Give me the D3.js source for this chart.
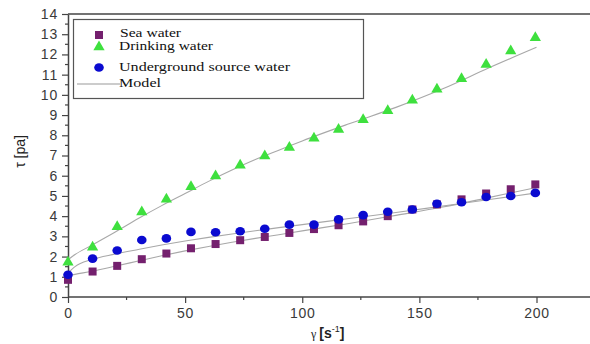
<!DOCTYPE html>
<html>
<head>
<meta charset="utf-8">
<script src="https://cdn.jsdelivr.net/npm/d3@7"></script>
<style>
  body { margin: 0; background: #fff; }
  svg { display: block; }
</style>
</head>
<body>
<div id="chart"></div>
<script>
// shear rate (s^-1) where points were measured
const shearRate = [0, 10.5, 21, 31.5, 42, 52.5, 63, 73.5, 84, 94.5, 105, 115.5, 126, 136.5, 147, 157.5, 168, 178.5, 189, 199.5];
const seaWater = [0.85, 1.26, 1.54, 1.87, 2.15, 2.41, 2.62, 2.81, 2.97, 3.17, 3.36, 3.55, 3.74, 4.0, 4.33, 4.58, 4.83, 5.12, 5.33, 5.57];
const drinkingWater = [1.72, 2.46, 3.48, 4.2, 4.83, 5.45, 5.98, 6.52, 6.98, 7.39, 7.85, 8.29, 8.77, 9.21, 9.73, 10.28, 10.8, 11.5, 12.17, 12.82];
const undergroundWater = [1.1, 1.9, 2.3, 2.82, 2.9, 3.22, 3.2, 3.25, 3.38, 3.58, 3.58, 3.84, 4.05, 4.22, 4.33, 4.61, 4.69, 4.95, 5.0, 5.15];

// model curves
const modelX = [0, 3, 10, 20, 30, 40, 50, 60, 70, 80, 90, 100, 120, 140, 160, 180, 200];
const modelSea = [1.05, 1.12, 1.27, 1.52, 1.78, 2.04, 2.28, 2.5, 2.71, 2.9, 3.08, 3.27, 3.64, 4.04, 4.45, 4.93, 5.42];
const modelDrinking = [1.84, 2.1, 2.55, 3.2, 3.88, 4.52, 5.12, 5.72, 6.28, 6.8, 7.26, 7.72, 8.57, 9.38, 10.3, 11.35, 12.35];
const modelUnderground = [1.18, 1.5, 1.85, 2.12, 2.35, 2.57, 2.77, 2.95, 3.12, 3.28, 3.43, 3.58, 3.88, 4.18, 4.5, 4.82, 5.15];

const xTicks = [0, 50, 100, 150, 200];
const yTicks = d3.range(0, 15, 1);
const legendLabels = ['Sea water', 'Drinking water', 'Underground source water', 'Model'];

const width = 590;
const height = 344;
const margin = { top: 14, right: 0, bottom: 47, left: 68 };

const svg = d3.select('#chart')
  .append('svg')
  .attr('width', width)
  .attr('height', height);

const xScale = d3.scaleLinear()
  .domain([0, 200])
  .range([margin.left, 536.5]);
const yScale = d3.scaleLinear()
  .domain([0, 14])
  .range([height - margin.bottom, margin.top]);

const axisColor = '#444';
const tickFont = '"Liberation Sans", Arial, sans-serif';

// x axis
const xAxis = d3.axisBottom(xScale)
  .tickValues(xTicks)
  .tickSizeInner(6)
  .tickSizeOuter(0)
  .tickPadding(5);
const gx = svg.append('g')
  .attr('class', 'x-axis')
  .attr('transform', `translate(0, ${yScale(0)})`)
  .call(xAxis);
gx.select('.domain').remove();
gx.append('line')
  .attr('x1', margin.left).attr('x2', width)
  .attr('stroke', axisColor).attr('stroke-width', 1.5);
gx.selectAll('.tick line').attr('stroke', axisColor).attr('stroke-width', 1.2);
gx.selectAll('.tick text')
  .attr('font-family', tickFont)
  .attr('font-size', 14)
  .attr('letter-spacing', 0.8)
  .attr('fill', '#3a3a3a');
gx.selectAll('.minor')
  .data([25, 75, 125, 175])
  .join('line')
  .attr('class', 'minor')
  .attr('x1', d => xScale(d)).attr('x2', d => xScale(d))
  .attr('y1', 0).attr('y2', 3)
  .attr('stroke', axisColor).attr('stroke-width', 1.2);

// y axis
const yAxis = d3.axisLeft(yScale)
  .tickValues(yTicks)
  .tickSizeInner(6)
  .tickSizeOuter(0)
  .tickPadding(4);
const gy = svg.append('g')
  .attr('class', 'y-axis')
  .attr('transform', `translate(${margin.left}, 0)`)
  .call(yAxis);
gy.select('.domain')
  .attr('stroke', axisColor).attr('stroke-width', 1.5);
gy.selectAll('.tick line').attr('stroke', axisColor).attr('stroke-width', 1.2);
gy.selectAll('.tick text')
  .attr('font-family', tickFont)
  .attr('font-size', 14)
  .attr('letter-spacing', 0.8)
  .attr('fill', '#3a3a3a');
gy.selectAll('.minor')
  .data(d3.range(0.5, 14, 1))
  .join('line')
  .attr('class', 'minor')
  .attr('x1', -3).attr('x2', 0)
  .attr('y1', d => yScale(d)).attr('y2', d => yScale(d))
  .attr('stroke', axisColor).attr('stroke-width', 1.2);

// top frame line
svg.append('line')
  .attr('x1', margin.left).attr('x2', width)
  .attr('y1', yScale(14)).attr('y2', yScale(14))
  .attr('stroke', axisColor).attr('stroke-width', 1.5);

// axis titles
svg.append('text')
  .attr('transform', `translate(25, ${yScale(7.2)}) rotate(-90)`)
  .attr('text-anchor', 'middle')
  .attr('font-family', tickFont)
  .attr('font-size', 14)
  .attr('fill', '#222')
  .text('τ [pa]');
const xLabel = svg.append('text')
  .attr('x', 311)
  .attr('y', 338)
  .attr('font-family', tickFont)
  .attr('font-size', 14)
  .attr('fill', '#222');
xLabel.append('tspan').attr('font-family', '"Liberation Serif", serif').attr('font-size', 12).text('γ ');
xLabel.append('tspan').attr('font-weight', 700).text('[s');
xLabel.append('tspan').attr('dy', -6).attr('font-size', 9).text('-1');
xLabel.append('tspan').attr('dy', 6).attr('font-weight', 700).text(']');

// model lines
const line = d3.line()
  .x(d => xScale(d[0]))
  .y(d => yScale(d[1]))
  .curve(d3.curveMonotoneX);
[modelSea, modelDrinking, modelUnderground].forEach(m => {
  svg.append('path')
    .datum(modelX.map((x, i) => [x, m[i]]))
    .attr('fill', 'none')
    .attr('stroke', '#a8a8a8')
    .attr('stroke-width', 1.1)
    .attr('d', line);
});

const seaColor = '#74206e';
const drinkColor = '#3ee03e';
const underColor = '#0a0ad0';

// points
const plot = svg.append('g').attr('class', 'plot-container');
plot.selectAll('.sea')
  .data(shearRate.map((x, i) => [x, seaWater[i]]))
  .join('rect')
  .attr('class', 'sea')
  .attr('x', d => xScale(d[0]) - 4)
  .attr('y', d => yScale(d[1]) - 4)
  .attr('width', 8).attr('height', 8)
  .attr('fill', seaColor);
plot.selectAll('.under')
  .data(shearRate.map((x, i) => [x, undergroundWater[i]]))
  .join('ellipse')
  .attr('class', 'under')
  .attr('cx', d => xScale(d[0]))
  .attr('cy', d => yScale(d[1]))
  .attr('rx', 4.8).attr('ry', 4.3)
  .attr('fill', underColor);
const tri = d3.symbol().type(d3.symbolTriangle).size(55);
plot.selectAll('.drink')
  .data(shearRate.map((x, i) => [x, drinkingWater[i]]))
  .join('path')
  .attr('class', 'drink')
  .attr('transform', d => `translate(${xScale(d[0])}, ${yScale(d[1])})`)
  .attr('d', tri)
  .attr('fill', drinkColor);

// legend
const legend = svg.append('g').attr('class', 'legend');
legend.append('rect')
  .attr('x', 73.5).attr('y', 19.5)
  .attr('width', 290).attr('height', 79)
  .attr('fill', '#fff')
  .attr('stroke', '#555').attr('stroke-width', 1.2);
const serif = '"Liberation Serif", "Times New Roman", serif';
const legendY = [36.5, 50, 71, 86.5];
const legendW = [61, 94, 171, 42];
legend.append('rect')
  .attr('x', 95).attr('y', 31)
  .attr('width', 8).attr('height', 8)
  .attr('fill', seaColor);
legend.append('path')
  .attr('transform', 'translate(99, 47)')
  .attr('d', tri)
  .attr('fill', drinkColor);
legend.append('ellipse')
  .attr('cx', 99).attr('cy', 67.5)
  .attr('rx', 4.8).attr('ry', 4.3)
  .attr('fill', underColor);
legend.append('line')
  .attr('x1', 77).attr('x2', 120)
  .attr('y1', 84).attr('y2', 84)
  .attr('stroke', '#999').attr('stroke-width', 1);
legend.selectAll('.label')
  .data(legendLabels)
  .join('text')
  .attr('class', 'label')
  .attr('x', (d, i) => i === 0 ? 120 : 119)
  .attr('y', (d, i) => legendY[i])
  .attr('font-family', serif)
  .attr('font-size', 13.5)
  .attr('textLength', (d, i) => legendW[i])
  .attr('lengthAdjust', 'spacingAndGlyphs')
  .attr('fill', '#111')
  .text(d => d);
</script>
</body>
</html>
